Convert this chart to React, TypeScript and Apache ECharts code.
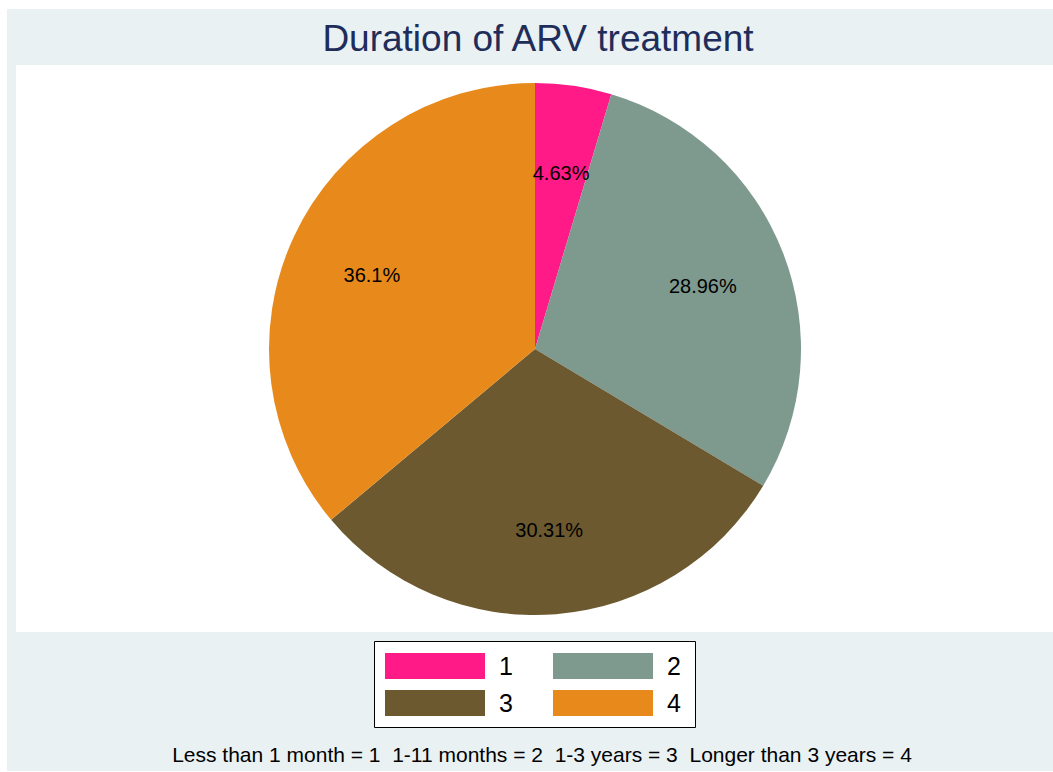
import React, { useEffect, useRef } from "react";
import * as echarts from "echarts";

const categories = ["1", "2", "3", "4"];
const values = [4.63, 28.96, 30.31, 36.1];
const colors = ["#FF1A87", "#7E998E", "#6C5930", "#E78A1B"];
const titleText = "Duration of ARV treatment";
const noteText = "Less than 1 month = 1  1-11 months = 2  1-3 years = 3  Longer than 3 years = 4";

export default function App() {
  const ref = useRef<HTMLDivElement>(null);
  useEffect(() => {
    const chart = echarts.init(ref.current!, null, { renderer: "svg" });
    const data = categories.map((c, i) => ({ name: c, value: values[i], itemStyle: { color: colors[i] } }));
    const font = "'Liberation Sans', Arial, Helvetica, sans-serif";
    chart.setOption({
      animation: false,
      backgroundColor: "#ffffff",
      graphic: [
        { type: "rect", z: -10, shape: { x: 7, y: 9, width: 1046, height: 762 }, style: { fill: "#E9F1F3" }, silent: true },
        { type: "rect", z: -9, shape: { x: 16, y: 65, width: 1037, height: 567 }, style: { fill: "#ffffff" }, silent: true },
        { type: "rect", z: -8, shape: { x: 374.5, y: 641.5, width: 321, height: 86 }, style: { fill: "#ffffff", stroke: "#000000", lineWidth: 1 }, silent: true },
      ],
      title: [
        {
          text: titleText,
          left: 533,
          textAlign: "center",
          top: 15,
          textStyle: { fontFamily: font, fontSize: 37, fontWeight: "normal", color: "#1E2D5A" },
        },
        {
          text: noteText,
          left: 537,
          textAlign: "center",
          top: 739,
          textStyle: { fontFamily: font, fontSize: 21, fontWeight: "normal", color: "#000000" },
        },
      ],
      legend: [
        {
          data: ["1", "3"],
          orient: "vertical",
          left: 385,
          top: 653,
          padding: 0,
          itemWidth: 100,
          itemHeight: 26,
          itemGap: 11,
          icon: "rect",
          selectedMode: false,
          textStyle: { fontFamily: font, fontSize: 25, color: "#000", padding: [0, 0, 0, 9] },
        },
        {
          data: ["2", "4"],
          orient: "vertical",
          left: 553,
          top: 653,
          padding: 0,
          itemWidth: 100,
          itemHeight: 26,
          itemGap: 11,
          icon: "rect",
          selectedMode: false,
          textStyle: { fontFamily: font, fontSize: 25, color: "#000", padding: [0, 0, 0, 9] },
        },
      ],
      series: [
        {
          type: "pie",
          center: [535, 349],
          radius: [0, 266],
          startAngle: 90,
          clockwise: true,
          data,
          label: { show: false },
          labelLine: { show: false },
          silent: true,
        },
        {
          type: "pie",
          center: [535, 351],
          radius: [88, 266],
          startAngle: 90,
          clockwise: true,
          data: categories.map((c, i) => ({ name: c, value: values[i] })),
          itemStyle: { color: "rgba(0,0,0,0)" },
          label: {
            show: true,
            position: "inside",
            formatter: (p: any) => p.value + "%",
            fontFamily: font,
            fontSize: 20,
            color: "#000",
          },
          labelLine: { show: false },
          silent: true,
          legendHoverLink: false,
        },
      ],
    });
    return () => chart.dispose();
  }, []);
  return <div ref={ref} style={{ position: "absolute", left: 0, top: 0, width: 1053, height: 772 }} />;
}
